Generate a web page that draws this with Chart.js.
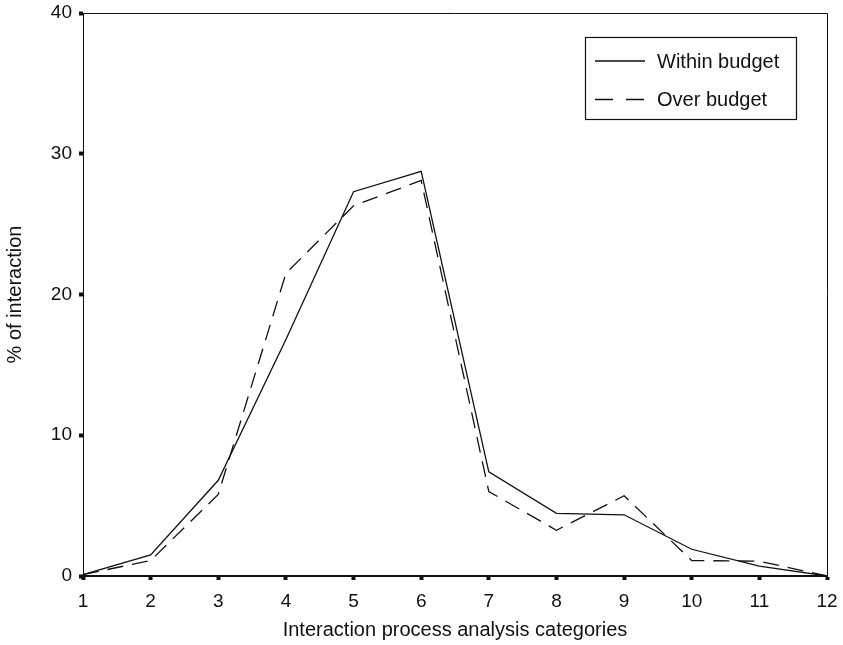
<!DOCTYPE html>
<html>
<head>
<meta charset="utf-8">
<title>Interaction process analysis</title>
<script src="https://cdn.jsdelivr.net/npm/chart.js@4.4.1/dist/chart.umd.min.js"></script>
<style>
    html, body { margin: 0; padding: 0; background: #ffffff; }
    canvas { display: block; }
</style>
</head>
<body>
<canvas id="ipaChart" width="843" height="645"></canvas>
<script>
//Category numbers on the x axis
const categories = ["1", "2", "3", "4", "5", "6", "7", "8", "9", "10", "11", "12"];

//% of interaction per category
const withinBudget = [0.1, 1.5, 6.8, 16.8, 27.3, 28.75, 7.4, 4.45, 4.35, 1.9, 0.7, 0];
const overBudget   = [0.1, 1.1, 5.8, 21.5, 26.3, 28.1, 6.0, 3.25, 5.7, 1.1, 1.05, 0];

const seriesLabels = ["Within budget", "Over budget"];
const yTicks = [0, 10, 20, 30, 40];

const FONT = "'Liberation Sans', Arial, Helvetica, sans-serif";
const INK = "#111111";

//Top and right edges of the plot box plus the boxed legend
const framePlugin = {
    id: "frame",
    afterDraw(chart){
        let ctx = chart.ctx,
            a = chart.chartArea;

        ctx.save();
        ctx.strokeStyle = INK;
        ctx.lineWidth = 1;
        ctx.beginPath();
        ctx.moveTo(a.left, a.top + 0.5);
        ctx.lineTo(a.right + 0.5, a.top + 0.5);
        ctx.lineTo(a.right + 0.5, a.bottom);
        ctx.stroke();

        //legend box
        let bx = a.right - 242, by = a.top + 24, bw = 211, bh = 82;
        ctx.lineWidth = 1.2;
        ctx.strokeRect(bx + 0.5, by + 0.5, bw, bh);

        ctx.font = "20px " + FONT;
        ctx.fillStyle = INK;
        ctx.textBaseline = "middle";
        ctx.textAlign = "left";

        chart.data.datasets.forEach((ds, i) => {
            let ly = by + 24 + i * 38.5;
            ctx.setLineDash(ds.borderDash ? [18, 13] : []);
            ctx.lineWidth = ds.borderWidth;
            ctx.beginPath();
            ctx.moveTo(bx + 10, ly);
            ctx.lineTo(bx + 60, ly);
            ctx.stroke();
            ctx.setLineDash([]);
            ctx.fillText(ds.label, bx + 72, ly + 1);
        });
        ctx.restore();
    },
};

let chart = new Chart("ipaChart", {
    type: "line",
    data: {
        labels: categories,
        datasets: [
            {
                label: seriesLabels[0],
                data: withinBudget,
                borderColor: INK,
                borderWidth: 1.3,
                pointRadius: 0,
                fill: false,
                tension: 0,
            },
            {
                label: seriesLabels[1],
                data: overBudget,
                borderColor: INK,
                borderWidth: 1.3,
                borderDash: [16, 9],
                pointRadius: 0,
                fill: false,
                tension: 0,
            },
        ],
    },
    options: {
        responsive: false,
        animation: false,
        layout: {
            padding: { top: 13, right: 16, left: 0, bottom: 0 },
        },
        plugins: {
            legend: { display: false },
            tooltip: { enabled: false },
        },
        scales: {
            x: {
                offset: false,
                afterFit: s => {
                    s.height = 69;
                    s.paddingLeft = 0;
                    s.paddingRight = 0;
                },
                border: { display: true, color: INK, width: 2 },
                grid: {
                    drawOnChartArea: false,
                    color: INK,
                    tickLength: 4,
                    tickWidth: 4,
                },
                ticks: {
                    color: INK,
                    padding: 10,
                    maxRotation: 0,
                    font: { family: FONT, size: 19 },
                },
                title: {
                    display: true,
                    text: "Interaction process analysis categories",
                    color: INK,
                    padding: { top: 0, bottom: 3 },
                    font: { family: FONT, size: 20 },
                },
            },
            y: {
                min: yTicks[0],
                max: yTicks[yTicks.length - 1],
                afterFit: s => {
                    s.width = 83;
                    s.paddingTop = 0;
                    s.paddingBottom = 0;
                },
                afterBuildTicks: s => { s.ticks = yTicks.map(v => ({ value: v })); },
                border: { display: true, color: INK, width: 1 },
                grid: {
                    drawOnChartArea: false,
                    color: INK,
                    tickLength: 4,
                    tickWidth: 4,
                },
                ticks: {
                    color: INK,
                    padding: 7,
                    font: { family: FONT, size: 19 },
                },
                title: {
                    display: true,
                    text: "% of interaction",
                    color: INK,
                    padding: { top: 3, bottom: 0 },
                    font: { family: FONT, size: 20 },
                },
            },
        },
    },
    plugins: [framePlugin],
});
</script>
</body>
</html>
